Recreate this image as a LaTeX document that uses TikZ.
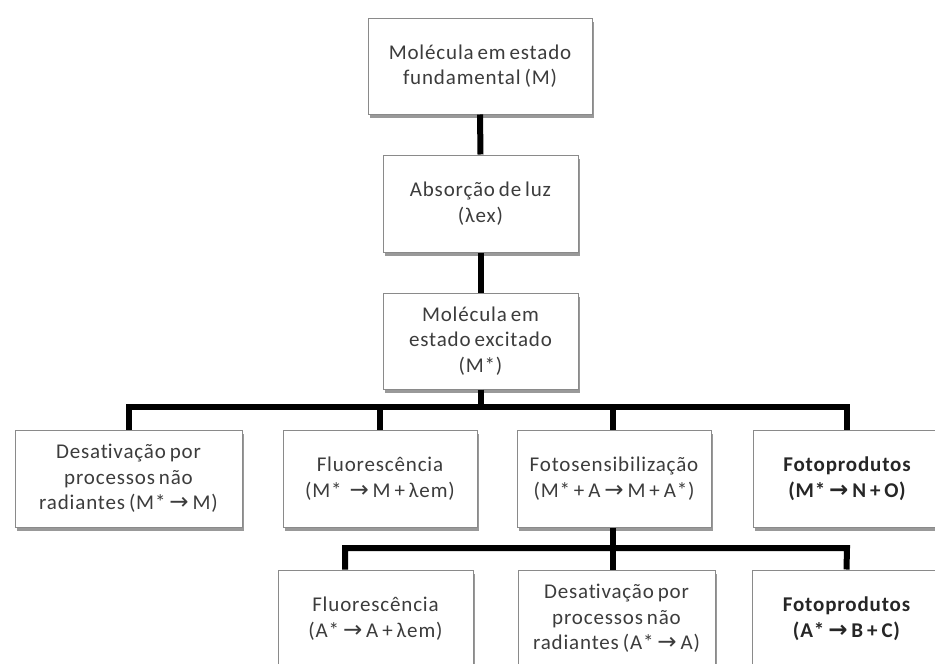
\documentclass[tikz,border=0pt]{standalone}
\usepackage{fontspec}
\setmainfont{Carlito}[LetterSpace=4,WordSpace=0.7,Ligatures={NoCommon}]
\newfontfamily\symf{DejaVu Sans}
\usetikzlibrary{shadows}
\definecolor{txt}{HTML}{3C3C3C}
\definecolor{txtb}{HTML}{262626}
\definecolor{edge}{HTML}{8A8A8A}
\newcommand{\arr}{{\symf\fontsize{23}{20}\selectfont →}}
\newcommand{\tix}{t\kern0pt i}
\tikzset{
  box/.style={draw=edge, line width=1pt, fill=white, align=center, text=txt,
    font=\fontsize{21}{25.5}\selectfont, inner sep=2pt,
    drop shadow={shadow xshift=1.5pt, shadow yshift=-3.5pt, fill=black!50, opacity=0.8}},
  boldbox/.style={box, text=txtb, font=\fontsize{21}{25.5}\selectfont\bfseries},
  conn/.style={line width=6pt, black}
}
\begin{document}
\begin{tikzpicture}[x=1pt,y=-1pt]
\useasboundingbox (0,0) rectangle (935,664);
\clip (0,0) rectangle (935,664);
\coordinate (busL) at (128.5,407);
\coordinate (busR) at (847,407);
\coordinate (bus2L) at (345,548);
\coordinate (bus2R) at (847,548);
\coordinate (bus2C) at (613,548);

\node[box, minimum width=224pt, minimum height=96pt] (m1) at (480,66) {Molécula em estado\\fundamental (M)};
\node[box, minimum width=195pt, minimum height=97pt] (abs) at (480.5,203.5) {Absorção de luz\\(λex)};
\node[box, minimum width=195pt, minimum height=96pt] (mex) at (480.5,341) {Molécula em\\estado excitado\\(M*)};

\node[box, minimum width=227pt, minimum height=97pt] (a) at (128.5,478.5) {Desa\tix vação por\\processos não\\radiantes (M* \arr\ M)};
\node[box, minimum width=194pt, minimum height=97pt] (b) at (380,478.5) {Fluorescência\\(M*\ \ \arr\ M + λem)};
\node[box, minimum width=194pt, minimum height=97pt] (c) at (614,478.5) {Fotosensibilização\\(M* + A \arr\ M + A*)};
\node[boldbox, minimum width=188pt, minimum height=97pt] (d) at (847,478.5) {Fotoprodutos\\(M* {\bfseries\arr} N + O)};

\node[box, minimum width=195pt, minimum height=97pt] (e) at (375.5,618.5) {Fluorescência\\(A* \arr\ A + λem)};
\node[box, minimum width=197pt, minimum height=97pt] (f) at (616.5,618.5) {Desa\tix vação por\\processos não\\radiantes (A* \arr\ A)};
\node[boldbox, minimum width=189pt, minimum height=97pt] (g) at (846.5,618.5) {Fotoprodutos\\(A* {\bfseries\arr} B + C)};

\draw[conn] (m1.south) -- (abs.north);
\draw[conn] (abs.south) -- (mex.north);
\draw[conn] (mex.south) -- (mex.south |- busL);
\draw[conn] (a.north) -- (busL) -- (busR) -- (d.north);
\draw[conn] (b.north) -- (b.north |- busL);
\draw[conn] (c.north -| bus2C) -- (bus2C |- busL);
\draw[conn] (c.south -| bus2C) -- (bus2C);
\draw[conn] (e.north -| bus2L) -- (bus2L) -- (bus2R) -- (g.north);
\draw[conn] (f.north -| bus2C) -- (bus2C);
\end{tikzpicture}
\end{document}
